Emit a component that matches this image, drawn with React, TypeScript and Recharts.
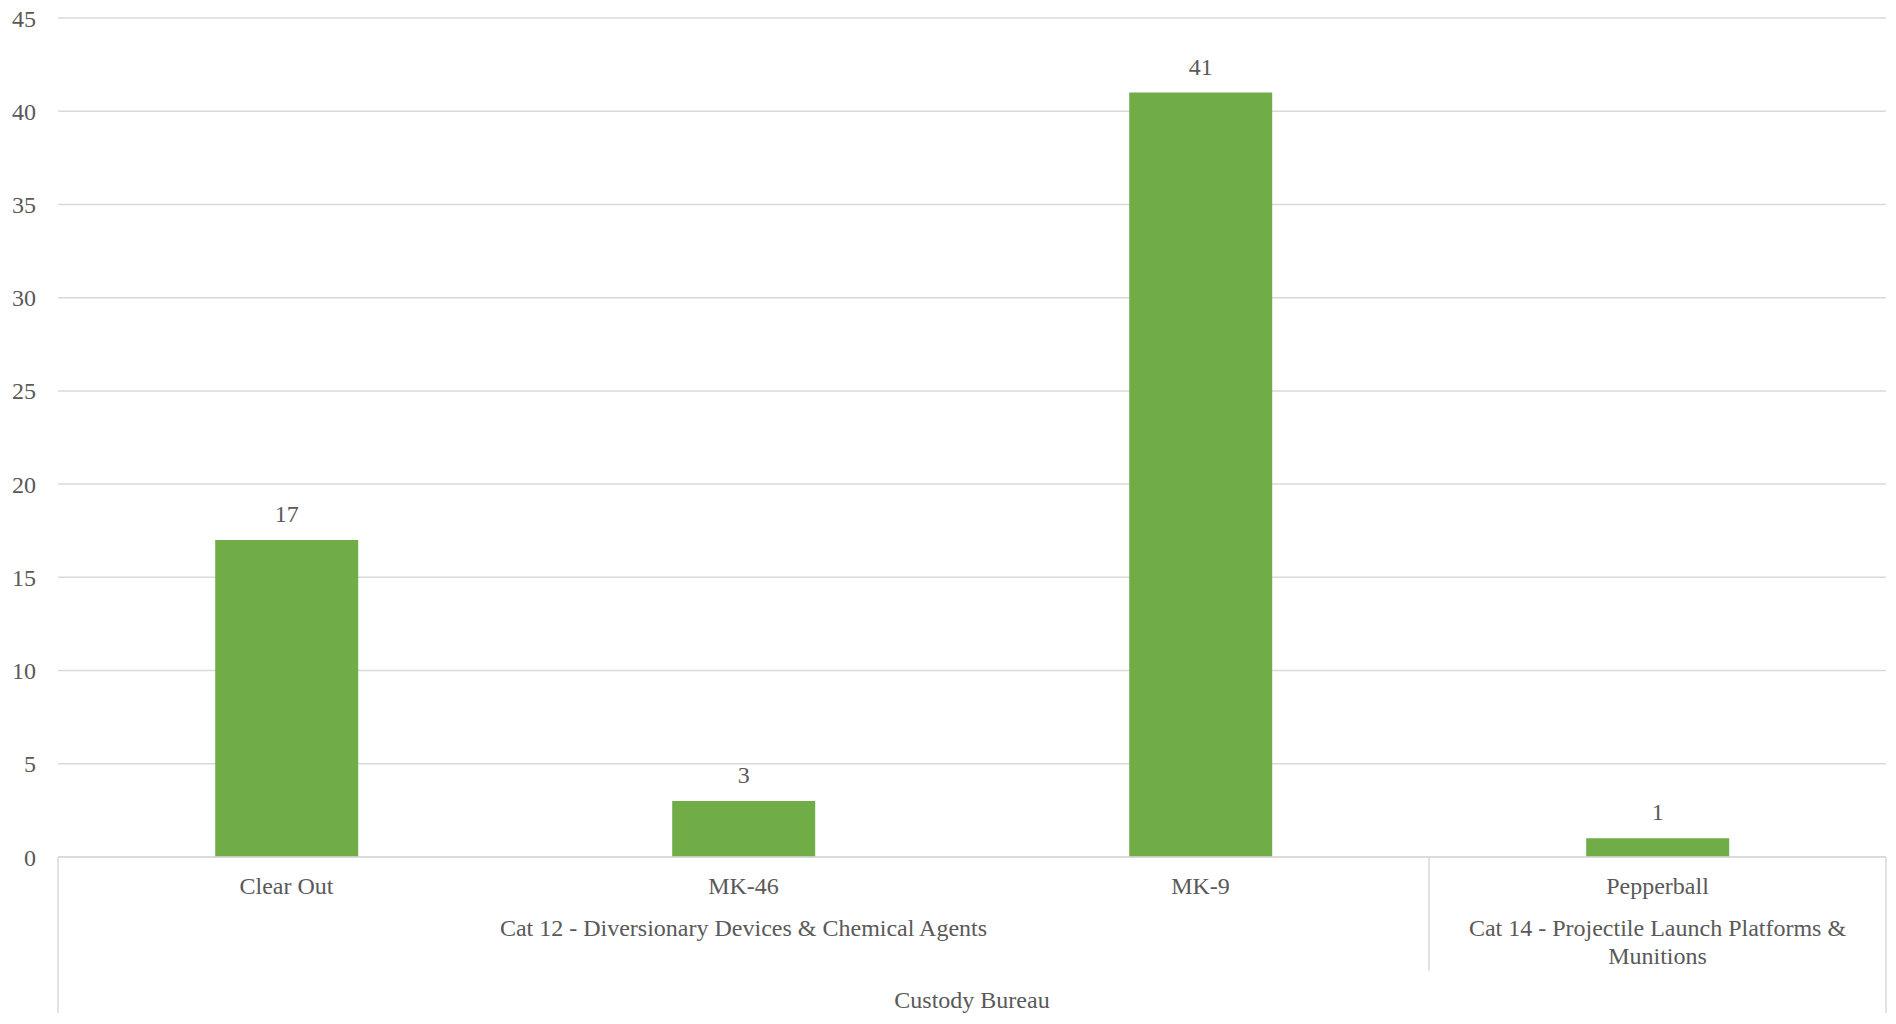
import { BarChart, Bar, XAxis, YAxis, CartesianGrid, LabelList } from "recharts"

const items = ["Clear Out", "MK-46", "MK-9", "Pepperball"]
const counts = [17, 3, 41, 1]
const itemGroup = [0, 0, 0, 1]
const groups = [
  "Cat 12 - Diversionary Devices & Chemical Agents",
  "Cat 14 - Projectile Launch Platforms & Munitions",
]
const bureau = "Custody Bureau"
const yTicks = [0, 5, 10, 15, 20, 25, 30, 35, 40, 45]

const FONT = "'Liberation Serif', 'Times New Roman', serif"
const TEXT = "#595959"
const RULE = "#d9d9d9"

const data = items.map((name, i) => ({ name, count: counts[i] }))

let ctx: CanvasRenderingContext2D | null = null
// split a label into lines that fit inside maxWidth
function wrap(label: string, maxWidth: number) {
  if (!ctx) ctx = document.createElement("canvas").getContext("2d")
  if (!ctx) return [label]
  ctx.font = `24px ${FONT}`
  const lines: string[] = []
  let cur = ""
  for (const w of label.split(" ")) {
    const next = cur ? cur + " " + w : w
    if (cur && ctx.measureText(next).width > maxWidth) {
      lines.push(cur)
      cur = w
    } else {
      cur = next
    }
  }
  if (cur) lines.push(cur)
  return lines
}

function CategoryTick(props: any) {
  const { x, y, payload, index } = props
  const half = payload?.offset ?? 228.5
  const band = half * 2
  const g = itemGroup[index]
  const first = itemGroup.indexOf(g)
  const last = itemGroup.lastIndexOf(g)
  const n = items.length
  const gx = x + ((last - first) / 2) * band
  const lines = wrap(groups[g], (last - first + 1) * band - 30)
  return (
    <g fontFamily={FONT} fontSize={24} fill={TEXT}>
      <text x={x} y={y + 37} textAnchor="middle" fill={TEXT}>
        {payload.value}
      </text>
      {index === first && (
        <>
          <line
            x1={x - half}
            x2={x - half}
            y1={y}
            y2={index === 0 ? y + 156 : y + 114}
            stroke={RULE}
            strokeWidth={1.5}
          />
          <text x={gx} y={y + 79} textAnchor="middle" fill={TEXT}>
            {lines.map((l, i) => (
              <tspan key={i} x={gx} dy={i === 0 ? 0 : 28}>
                {l}
              </tspan>
            ))}
          </text>
        </>
      )}
      {index === n - 1 && (
        <line x1={x + half} x2={x + half} y1={y} y2={y + 156} stroke={RULE} strokeWidth={1.5} />
      )}
      {index === 0 && (
        <text x={x + ((n - 1) / 2) * band} y={y + 151} textAnchor="middle" fill={TEXT}>
          {bureau}
        </text>
      )}
    </g>
  )
}

export default function App() {
  return (
    <div style={{ position: "absolute", left: 0, top: 0, background: "#fff" }}>
      <BarChart
        width={1896}
        height={1024}
        data={data}
        margin={{ top: 18, right: 10, bottom: 0, left: 0 }}
        barCategoryGap="34.4%"
      >
        <CartesianGrid vertical={false} stroke={RULE} strokeWidth={1.5} />
        <YAxis
          width={58}
          domain={[0, 45]}
          ticks={yTicks}
          axisLine={false}
          tickLine={false}
          tickSize={0}
          tickMargin={22}
          tick={{ fill: TEXT, fontSize: 24, fontFamily: FONT }}
        />
        <XAxis
          dataKey="name"
          height={167}
          interval={0}
          tickSize={0}
          tickMargin={0}
          tickLine={false}
          axisLine={{ stroke: RULE, strokeWidth: 1.5 }}
          tick={<CategoryTick />}
        />
        <Bar dataKey="count" fill="#70ad47" isAnimationActive={false}>
          <LabelList
            dataKey="count"
            position="top"
            offset={18}
            fill={TEXT}
            fontSize={24}
            fontFamily={FONT}
          />
        </Bar>
      </BarChart>
    </div>
  )
}
